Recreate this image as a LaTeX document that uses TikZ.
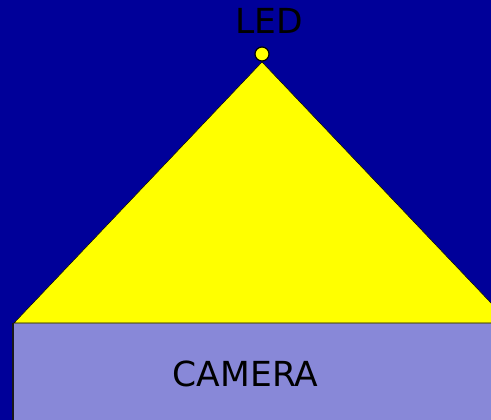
\documentclass[tikz,border=0pt]{standalone}
\usepackage{fontspec}
\setmainfont{DejaVu Sans}
\definecolor{bgblue}{HTML}{000099}
\definecolor{camfill}{HTML}{8888D8}
\definecolor{ledyellow}{HTML}{FFFF00}
\begin{document}
\begin{tikzpicture}[x=1pt,y=1pt,
  lbl/.style={font=\fontsize{34.5}{40}\selectfont, text=black, inner sep=0pt}]
\useasboundingbox (0,0) rectangle (491,420);
\clip (0,0) rectangle (491,420);
\fill[bgblue] (0,0) rectangle (491,420);
% light cone
\coordinate (apex) at (262,358);
\coordinate (lc) at (14,97);
\coordinate (rc) at (510,97);
\filldraw[fill=ledyellow, draw=black, line width=0.5pt] (lc) -- (apex) -- (rc) -- cycle;
% camera
\node[draw=none, fill=camfill, minimum width=490pt, minimum height=100pt, anchor=north west, inner sep=0pt] (cam) at (13,96.5) {};
\draw[black!60, line width=1.2pt] (13,96.5) -- (495,96.5);
\draw[black!90, line width=2.2pt] (13,97) -- (13,-2);
\node[lbl, anchor=base] (camlbl) at (245.5,33.5) {CAMERA};
% LED
\node[circle, fill=ledyellow, draw=black, line width=1.2pt, minimum size=14pt, inner sep=0pt] (led) at (262,366) {};
\node[lbl, anchor=base] (ledlbl) at (269.5,386) {LED};
\end{tikzpicture}
\end{document}
